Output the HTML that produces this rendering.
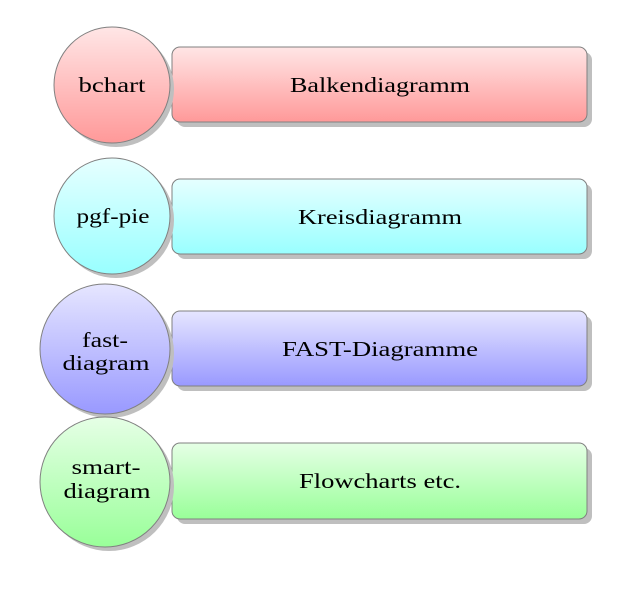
<!DOCTYPE html>
<html><head><style>html,body{margin:0;padding:0;background:#fff}svg{display:block}</style></head>
<body>
<svg width="633" height="591" viewBox="0 0 633 591" xmlns="http://www.w3.org/2000/svg" font-family="'Liberation Serif', serif" font-size="21" text-anchor="middle" fill="#000">
<defs>
<linearGradient id="r" x1="0" y1="0" x2="0" y2="1"><stop offset="0" stop-color="#ffe6e6"/><stop offset="1" stop-color="#ff9999"/></linearGradient>
<linearGradient id="c" x1="0" y1="0" x2="0" y2="1"><stop offset="0" stop-color="#e6ffff"/><stop offset="1" stop-color="#99ffff"/></linearGradient>
<linearGradient id="b" x1="0" y1="0" x2="0" y2="1"><stop offset="0" stop-color="#e6e6ff"/><stop offset="1" stop-color="#9999ff"/></linearGradient>
<linearGradient id="g" x1="0" y1="0" x2="0" y2="1"><stop offset="0" stop-color="#e6ffe6"/><stop offset="1" stop-color="#99ff99"/></linearGradient>
</defs>
<g stroke="#808080" stroke-width="1">
<rect x="177" y="52" width="415" height="75" rx="8" fill="#bfbfbf" stroke="none"/>
<rect x="172" y="47" width="415" height="75" rx="8" fill="url(#r)"/>
<circle cx="116" cy="89" r="58" fill="#bfbfbf" stroke="none"/>
<circle cx="112" cy="85" r="58" fill="url(#r)"/>
<rect x="177" y="184" width="415" height="75" rx="8" fill="#bfbfbf" stroke="none"/>
<rect x="172" y="179" width="415" height="75" rx="8" fill="url(#c)"/>
<circle cx="116" cy="220" r="58" fill="#bfbfbf" stroke="none"/>
<circle cx="112" cy="216" r="58" fill="url(#c)"/>
<rect x="177" y="316" width="415" height="75" rx="8" fill="#bfbfbf" stroke="none"/>
<rect x="172" y="311" width="415" height="75" rx="8" fill="url(#b)"/>
<circle cx="109" cy="353" r="65" fill="#bfbfbf" stroke="none"/>
<circle cx="105" cy="349" r="65" fill="url(#b)"/>
<rect x="177" y="448" width="415" height="76" rx="8" fill="#bfbfbf" stroke="none"/>
<rect x="172" y="443" width="415" height="76" rx="8" fill="url(#g)"/>
<circle cx="109" cy="486" r="65" fill="#bfbfbf" stroke="none"/>
<circle cx="105" cy="482" r="65" fill="url(#g)"/>
</g>
<text x="380" y="92" textLength="180" lengthAdjust="spacingAndGlyphs">Balkendiagramm</text>
<text x="380" y="224" textLength="164" lengthAdjust="spacingAndGlyphs">Kreisdiagramm</text>
<text x="380" y="356" textLength="196" lengthAdjust="spacingAndGlyphs">FAST-Diagramme</text>
<text x="380" y="488" textLength="162" lengthAdjust="spacingAndGlyphs">Flowcharts etc.</text>
<text x="112" y="92" textLength="67" lengthAdjust="spacingAndGlyphs">bchart</text>
<text x="113" y="223" textLength="73" lengthAdjust="spacingAndGlyphs">pgf-pie</text>
<text x="105" y="347" textLength="46" lengthAdjust="spacingAndGlyphs">fast-</text>
<text x="106" y="370" textLength="87" lengthAdjust="spacingAndGlyphs">diagram</text>
<text x="106" y="474" textLength="69" lengthAdjust="spacingAndGlyphs">smart-</text>
<text x="107" y="498" textLength="87" lengthAdjust="spacingAndGlyphs">diagram</text>
</svg>
</body></html>
